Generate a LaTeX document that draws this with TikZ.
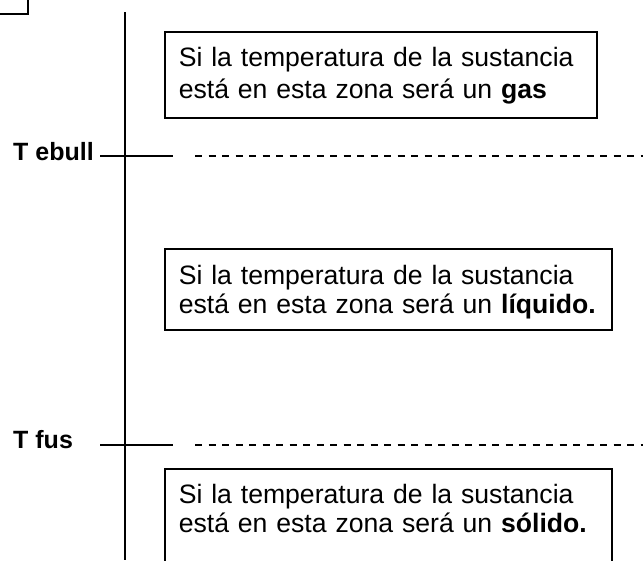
\documentclass[tikz,border=0pt]{standalone}
\usepackage{fontspec}
\setmainfont{Liberation Sans}
\usetikzlibrary{positioning}

\tikzset{
  zona/.style={draw, line width=1.6pt, anchor=base west, align=left,
    inner xsep=14pt, inner ysep=0pt, font=\fontsize{26.6}{29}\selectfont},
  nivel/.style={line width=1.5pt},
  limite/.style={line width=2pt, dash pattern=on 7pt off 6.5pt},
  etiqueta/.style={anchor=base west, inner sep=0pt, font=\fontsize{25}{30}\selectfont\bfseries}
}

\begin{document}
\begin{tikzpicture}[x=1pt, y=-1pt]
\useasboundingbox (0,0) rectangle (643,560);

% Corner mark
\draw[nivel] (0,14) -- (28,14) -- (28,0);

% Temperature axis
\coordinate (ejeA) at (125,12);
\coordinate (ejeB) at (125,560);
\draw[nivel] (ejeA) -- (ejeB);

% Boiling point
\node[etiqueta] (tebull) at (13,160) {T ebull};
\coordinate (ebA) at (100,156);
\coordinate (ebB) at (173,156);
\coordinate (ebC) at (195,156);
\coordinate (ebD) at (643,156);
\draw[nivel] (ebA) -- (ebB);
\draw[limite] (ebC) -- (ebD);

% Melting point
\node[etiqueta] (tfus) at (13,448) {T fus};
\coordinate (fuA) at (100,445);
\coordinate (fuB) at (173,445);
\coordinate (fuC) at (195,445);
\coordinate (fuD) at (643,445);
\draw[nivel] (fuA) -- (fuB);
\draw[limite] (fuC) -- (fuD);

% Gas zone
\node[zona, font=\fontsize{26.6}{32}\selectfont, text width=404pt, text height=34pt,
  text depth=52pt] (gas) at (164,66)
  {Si la temperatura de la sustancia\\est\'a en esta zona ser\'a un \textbf{gas}};

% Liquid zone
\node[zona, text width=419pt, text height=35pt, text depth=46pt] (liquido) at (164,284)
  {Si la temperatura de la sustancia\\est\'a en esta zona ser\'a un \textbf{l\'iquido.}};

% Solid zone
\node[zona, text width=419pt, text height=34pt, text depth=100pt] (solido) at (164,503)
  {Si la temperatura de la sustancia\\est\'a en esta zona ser\'a un \textbf{s\'olido.}};
\end{tikzpicture}
\end{document}
